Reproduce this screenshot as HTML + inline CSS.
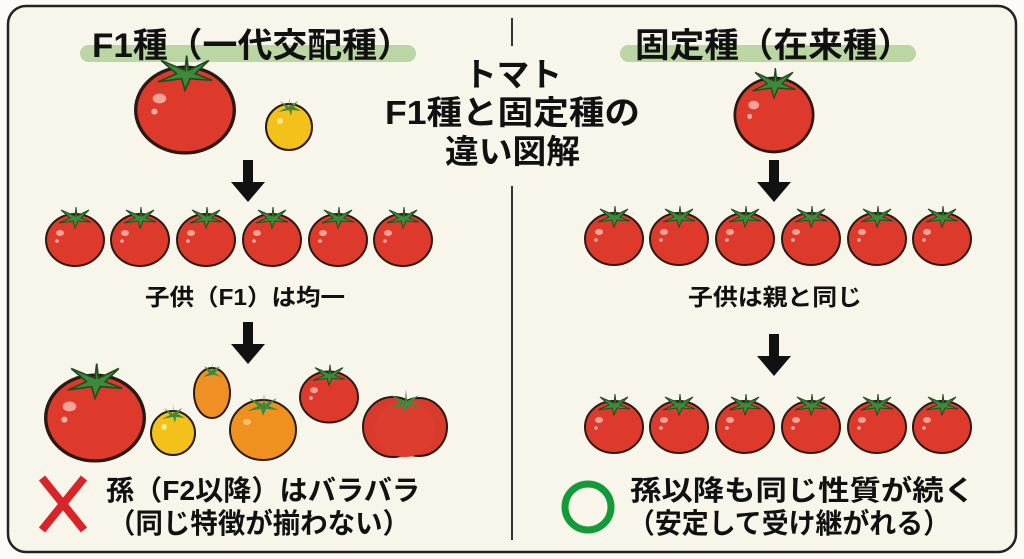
<!DOCTYPE html>
<html><head><meta charset="utf-8"><style>
html,body{margin:0;padding:0;background:#fbfaf6}
svg{display:block}
text{font-family:"Liberation Sans","Noto Sans CJK JP",sans-serif;font-weight:bold;fill:#111}
</style></head><body>
<svg width="1024" height="559" viewBox="0 0 1024 559" xmlns="http://www.w3.org/2000/svg">
<defs>
<g id="t">
 <ellipse cx="0" cy="0" rx="29" ry="26" fill="#de3a2c" stroke="#2a1a14" stroke-width="2"/>
 <ellipse cx="-15" cy="-7" rx="4" ry="3" fill="#f6a39a"/>
 <circle cx="-18" cy="1" r="1.8" fill="#f6b0a8"/>
 <path d="M0,-24 L-14,-30 L-5,-22 L-16,-17 L-2,-19 L0,-12 L3,-19 L16,-18 L6,-22 L14,-30 L2,-24 L1,-33 Z" fill="#3e8a3a" stroke="#1f4d1f" stroke-width="1"/>
</g>
<g id="ar"><rect x="-5" y="0" width="10" height="24" fill="#111"/><path d="M-17,22 L17,22 L0,42 Z" fill="#111"/></g>
</defs>
<rect x="8" y="6" width="1008" height="546" rx="18" fill="#f8f5eb" stroke="#222" stroke-width="2.5"/>
<line x1="512" y1="18" x2="512" y2="46" stroke="#333" stroke-width="2"/>
<line x1="512" y1="186" x2="512" y2="540" stroke="#333" stroke-width="2"/>
<rect x="80" y="45" width="336" height="17" rx="8.5" fill="#b9d6a3"/>
<rect x="620" y="45" width="296" height="17" rx="8.5" fill="#b9d6a3"/>
<text x="92" y="57" font-size="34" textLength="320" lengthAdjust="spacingAndGlyphs">F1種（一代交配種）</text>
<text x="635" y="57" font-size="34" textLength="277" lengthAdjust="spacingAndGlyphs">固定種（在来種）</text>
<text x="464" y="86" font-size="33" textLength="98" lengthAdjust="spacingAndGlyphs">トマト</text>
<text x="385" y="124" font-size="33" textLength="255" lengthAdjust="spacingAndGlyphs">F1種と固定種の</text>
<text x="445" y="163" font-size="33" textLength="135" lengthAdjust="spacingAndGlyphs">違い図解</text>
<!-- left -->
<use href="#t" transform="translate(185,110) scale(1.7,1.65)"/>
<g transform="translate(289,127)"><circle r="23" fill="#f2c21b" stroke="#2a1a14" stroke-width="2"/><circle cx="-9" cy="-6" r="3" fill="#fbe88a"/><path d="M0,-20 L-9,-26 L-3,-19 L-11,-15 L0,-17 L2,-11 L3,-17 L12,-16 L5,-20 L9,-26 L1,-21 L1,-30 Z" fill="#3e8a3a"/></g>
<use href="#ar" transform="translate(248,160)"/>
<use href="#t" x="75" y="240"/><use href="#t" x="140" y="240"/><use href="#t" x="206" y="240"/><use href="#t" x="272" y="240"/><use href="#t" x="338" y="240"/><use href="#t" x="403" y="240"/>
<text x="145" y="305" font-size="23" textLength="200" lengthAdjust="spacingAndGlyphs">子供（F1）は均一</text>
<use href="#ar" transform="translate(248,322)"/>
<use href="#t" transform="translate(95,418) scale(1.7,1.65)"/>
<g transform="translate(173,433)"><circle r="22" fill="#f2c21b" stroke="#2a1a14" stroke-width="2"/><circle cx="-9" cy="-6" r="3" fill="#fbe88a"/><path d="M0,-19 L-9,-25 L-3,-18 L-11,-14 L0,-16 L2,-10 L3,-16 L12,-15 L5,-19 L9,-25 L1,-20 L1,-29 Z" fill="#3e8a3a"/></g>
<g transform="translate(212,393)"><ellipse rx="18" ry="25" fill="#ef8f24" stroke="#2a1a14" stroke-width="2"/><path d="M0,-22 L-8,-27 L-3,-20 L-9,-16 L0,-18 L3,-18 L9,-16 L3,-20 L8,-27 L1,-23 L1,-30 Z" fill="#3e8a3a"/></g>
<g transform="translate(263,430)"><ellipse rx="33" ry="30" fill="#f0901f" stroke="#2a1a14" stroke-width="2"/><ellipse cx="-16" cy="-8" rx="4" ry="3" fill="#f8c07a"/><path d="M0,-26 L-14,-32 L-5,-24 L-16,-19 L-2,-21 L0,-14 L3,-21 L16,-20 L6,-24 L14,-32 L2,-26 L1,-36 Z" fill="#3e8a3a"/></g>
<use href="#t" transform="translate(329,397) scale(1,0.98)"/>
<g transform="translate(405,425)"><ellipse cx="-12" cy="2" rx="30" ry="30" fill="#d83a2c" stroke="#2a1a14" stroke-width="2"/><ellipse cx="14" cy="2" rx="28" ry="29" fill="#d83a2c" stroke="#2a1a14" stroke-width="2"/><ellipse cx="0" cy="4" rx="30" ry="28" fill="#dc3d2e"/><path d="M0,-24 L-14,-30 L-5,-22 L-16,-17 L-2,-19 L0,-12 L3,-19 L16,-18 L6,-22 L14,-30 L2,-24 L1,-36 Z" fill="#3e8a3a"/></g>
<path d="M42,478 L84,530 M84,478 L42,530" stroke="#d8252a" stroke-width="8"/>
<text x="106" y="500" font-size="28" textLength="314" lengthAdjust="spacingAndGlyphs">孫（F2以降）はバラバラ</text>
<text x="108" y="533" font-size="28" textLength="302" lengthAdjust="spacingAndGlyphs">（同じ特徴が揃わない）</text>
<!-- right -->
<use href="#t" transform="translate(774,115) scale(1.35,1.42)"/>
<use href="#ar" transform="translate(774,160)"/>
<use href="#t" x="614" y="239"/><use href="#t" x="679" y="239"/><use href="#t" x="745" y="239"/><use href="#t" x="811" y="239"/><use href="#t" x="877" y="239"/><use href="#t" x="942" y="239"/>
<text x="688" y="305" font-size="23" textLength="174" lengthAdjust="spacingAndGlyphs">子供は親と同じ</text>
<use href="#ar" transform="translate(774,334)"/>
<use href="#t" x="614" y="427"/><use href="#t" x="679" y="427"/><use href="#t" x="745" y="427"/><use href="#t" x="811" y="427"/><use href="#t" x="877" y="427"/><use href="#t" x="942" y="427"/>
<circle cx="588" cy="507" r="23" fill="none" stroke="#159a3a" stroke-width="7"/>
<text x="630" y="500" font-size="28" textLength="345" lengthAdjust="spacingAndGlyphs">孫以降も同じ性質が続く</text>
<text x="628" y="533" font-size="28" textLength="322" lengthAdjust="spacingAndGlyphs">（安定して受け継がれる）</text>
</svg>
</body></html>
